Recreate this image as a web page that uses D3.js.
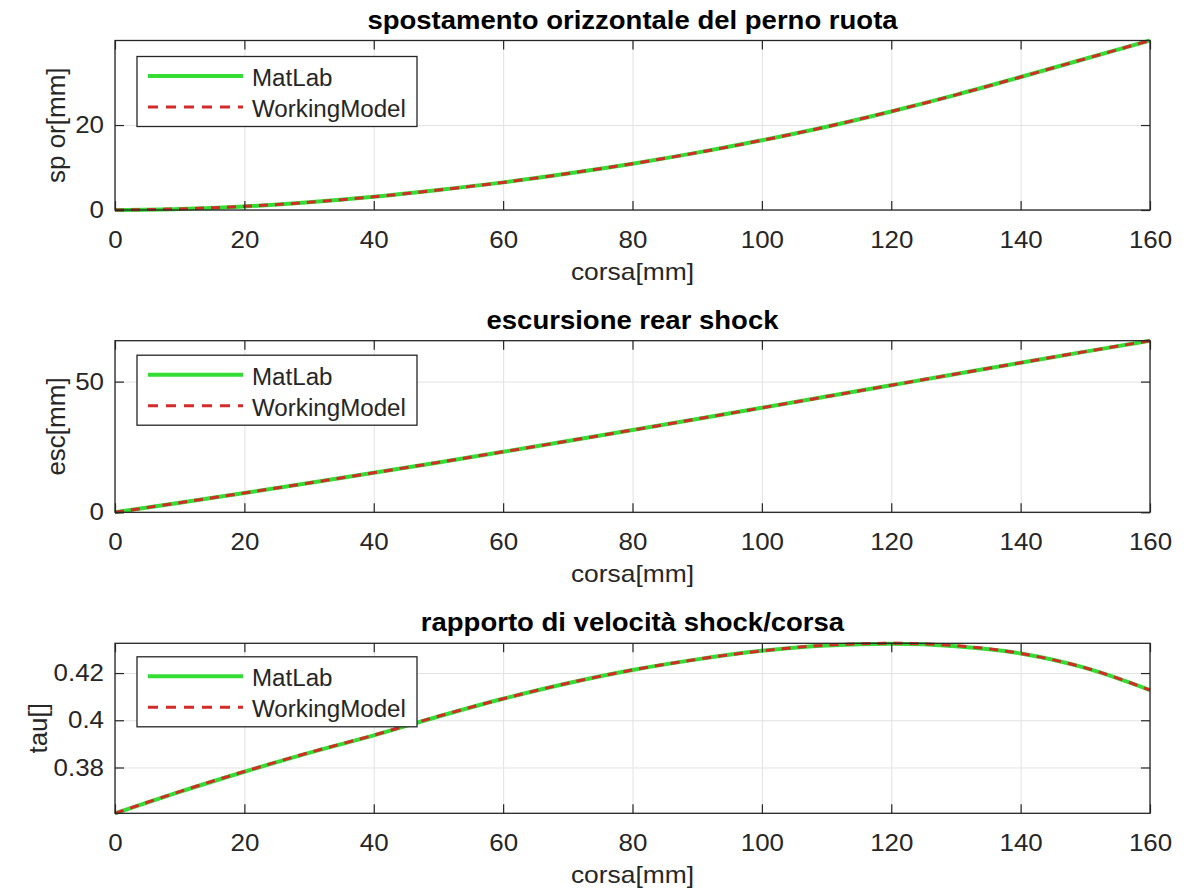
<!DOCTYPE html>
<html>
  <head>
    <title>Sospensione: MatLab vs WorkingModel</title>
    <script src="https://d3js.org/d3.v7.min.js"></script>
    <style type="text/css">
      body {
          margin: 0;
          background: #ffffff;
      }

      text {
          font-family: "Liberation Sans", Arial, Helvetica, sans-serif;
      }

      .grid line {
          stroke: #e2e2e2;
          stroke-width: 1;
      }

      .tick-in line {
          stroke: #262626;
          stroke-width: 1.2;
      }

      .ticklabel text {
          fill: #262626;
          font-size: 24px;
      }
    </style>
  </head>
  <body>
    <script>
        // Corsa ruota [mm] (asse x comune ai tre grafici)
        var corsa = [0, 10, 20, 30, 40, 50, 60, 70, 80, 90, 100, 110, 120, 130, 140, 150, 160];
        var xTicks = [0, 20, 40, 60, 80, 100, 120, 140, 160];

        // spostamento orizzontale del perno ruota [mm]
        var spOrMatLab = [0, 0.25, 0.85, 1.8, 3.1, 4.7, 6.5, 8.6, 10.9, 13.5, 16.4, 19.6, 23.2, 27.1, 31.3, 35.6, 39.9];
        var spOrWorkingModel = [0, 0.26, 0.86, 1.8, 3.1, 4.7, 6.5, 8.6, 10.9, 13.5, 16.4, 19.6, 23.2, 27.1, 31.3, 35.6, 39.9];
        var spOrTicks = [0, 20];

        // escursione rear shock [mm]
        var escMatLab = [0, 3.65, 7.39, 11.21, 15.11, 19.09, 23.14, 27.26, 31.45, 35.69, 39.97, 44.28, 48.60, 52.92, 57.22, 61.47, 65.65];
        var escWorkingModel = [0, 3.66, 7.40, 11.22, 15.12, 19.10, 23.15, 27.27, 31.46, 35.70, 39.98, 44.29, 48.61, 52.93, 57.22, 61.47, 65.65];
        var escTicks = [0, 50];

        // rapporto di velocita' shock/corsa
        var tauMatLab = [0.3606, 0.3697, 0.3782, 0.3862, 0.3936, 0.4016, 0.4091, 0.4157, 0.4213, 0.4258, 0.4294, 0.4317, 0.4324, 0.4314, 0.4283, 0.4222, 0.4128];
        var tauWorkingModel = [0.3606, 0.3698, 0.3783, 0.3863, 0.3937, 0.4017, 0.4091, 0.4157, 0.4213, 0.4258, 0.4294, 0.4318, 0.4326, 0.4316, 0.4283, 0.4222, 0.4128];
        var tauTicks = [0.38, 0.40, 0.42];

        var seriesNames = ["MatLab", "WorkingModel"];

        // Define variables for SVG and create SVG
        var svgWidth = 1196;
        var svgHeight = 892;
        var plotLeft = 115;
        var plotRight = 1150;

        var svg = d3.select("body")
                    .append("svg")
                    .attr("width", svgWidth)
                    .attr("height", svgHeight);

        var xScale = d3.scaleLinear()
                       .domain([0, 160])
                       .range([plotLeft, plotRight]);

        var panels = [
            {title: "spostamento orizzontale del perno ruota", ylabel: "sp or[mm]",
             a: spOrMatLab, b: spOrWorkingModel, ticks: spOrTicks, domain: [0, 39.9],
             top: 40.5, bottom: 210, legendTop: 16, ylabelX: 65},
            {title: "escursione rear shock", ylabel: "esc[mm]",
             a: escMatLab, b: escWorkingModel, ticks: escTicks, domain: [0, 65.65],
             top: 340.7, bottom: 512.3, legendTop: 14.5, ylabelX: 65},
            {title: "rapporto di velocità shock/corsa", ylabel: "tau[]",
             a: tauMatLab, b: tauWorkingModel, ticks: tauTicks, domain: [0.3606, 0.4326],
             top: 643.3, bottom: 813.3, legendTop: 13.5, ylabelX: 47}
        ];

        panels.forEach(function(p) {
            drawPanel(p);
        });

        // make text a bit wider, the original figure is stretched horizontally
        function stretch(selection, factor) {
            selection.each(function() {
                var w = this.getComputedTextLength();
                d3.select(this)
                  .attr("textLength", w * factor)
                  .attr("lengthAdjust", "spacingAndGlyphs");
            });
        }

        function drawPanel(p) {
            var g = svg.append("g");
            var yScale = d3.scaleLinear()
                           .domain(p.domain)
                           .range([p.bottom, p.top]);
            var h = p.bottom - p.top;
            var w = plotRight - plotLeft;

            // grid
            g.append("g")
             .attr("class", "grid")
             .attr("transform", "translate(0," + p.bottom + ")")
             .call(d3.axisBottom(xScale).tickValues(xTicks).tickSize(-h).tickFormat(""))
             .call(function(s) { s.select(".domain").remove(); });

            g.append("g")
             .attr("class", "grid")
             .attr("transform", "translate(" + plotLeft + ",0)")
             .call(d3.axisLeft(yScale).tickValues(p.ticks).tickSize(-w).tickFormat(""))
             .call(function(s) { s.select(".domain").remove(); });

            // lines
            var line = d3.line()
                         .x(function(d, i) { return xScale(corsa[i]); })
                         .y(function(d) { return yScale(d); })
                         .curve(d3.curveMonotoneX);

            g.append("path")
             .datum(p.a)
             .attr("fill", "none")
             .attr("stroke", "#33dd33")
             .attr("stroke-width", 4)
             .attr("d", line);

            g.append("path")
             .datum(p.b)
             .attr("fill", "none")
             .attr("stroke", "#d42a2a")
             .attr("stroke-width", 3)
             .attr("stroke-dasharray", "9,7")
             .attr("d", line);

            // inner ticks on all four sides
            var bottomAxis = g.append("g")
             .attr("class", "tick-in ticklabel")
             .attr("transform", "translate(0," + p.bottom + ")")
             .call(d3.axisBottom(xScale).tickValues(xTicks).tickSizeInner(-9).tickSizeOuter(0).tickPadding(21));
            bottomAxis.select(".domain").remove();
            stretch(bottomAxis.selectAll("text"), 1.08);

            g.append("g")
             .attr("class", "tick-in")
             .attr("transform", "translate(0," + p.top + ")")
             .call(d3.axisTop(xScale).tickValues(xTicks).tickSizeInner(-9).tickSizeOuter(0).tickFormat(""))
             .select(".domain").remove();

            var leftAxis = g.append("g")
             .attr("class", "tick-in ticklabel")
             .attr("transform", "translate(" + plotLeft + ",0)")
             .call(d3.axisLeft(yScale).tickValues(p.ticks).tickSizeInner(-9).tickSizeOuter(0).tickPadding(11)
                     .tickFormat(function(d) { return d3.format("~g")(d); }));
            leftAxis.select(".domain").remove();
            stretch(leftAxis.selectAll("text"), 1.08);

            g.append("g")
             .attr("class", "tick-in")
             .attr("transform", "translate(" + plotRight + ",0)")
             .call(d3.axisRight(yScale).tickValues(p.ticks).tickSizeInner(-9).tickSizeOuter(0).tickFormat(""))
             .select(".domain").remove();

            // box
            g.append("rect")
             .attr("x", plotLeft)
             .attr("y", p.top)
             .attr("width", w)
             .attr("height", h)
             .attr("fill", "none")
             .attr("stroke", "#262626")
             .attr("stroke-width", 1.3);

            // title
            g.append("text")
             .attr("x", (plotLeft + plotRight) / 2)
             .attr("y", p.top - 12)
             .attr("text-anchor", "middle")
             .attr("font-size", "25px")
             .attr("font-weight", "bold")
             .attr("fill", "#000")
             .text(p.title)
             .call(stretch, 1.1);

            // x label
            g.append("text")
             .attr("x", (plotLeft + plotRight) / 2)
             .attr("y", p.bottom + 70)
             .attr("text-anchor", "middle")
             .attr("font-size", "24px")
             .attr("fill", "#262626")
             .text("corsa[mm]")
             .call(stretch, 1.1);

            // y label
            g.append("text")
             .attr("transform", "translate(" + p.ylabelX + "," + (p.top + p.bottom) / 2 + ") rotate(-90)")
             .attr("text-anchor", "middle")
             .attr("font-size", "26px")
             .attr("fill", "#262626")
             .text(p.ylabel);

            // legend
            var lx = plotLeft + 22;
            var ly = p.top + p.legendTop;
            var legend = g.append("g");

            legend.append("rect")
                  .attr("x", lx)
                  .attr("y", ly)
                  .attr("width", 280)
                  .attr("height", 70)
                  .attr("fill", "#fff")
                  .attr("stroke", "#262626")
                  .attr("stroke-width", 1.3);

            var legendStyles = [
                {stroke: "#33dd33", width: 4, dash: null},
                {stroke: "#d42a2a", width: 3, dash: "10,8"}
            ];

            seriesNames.forEach(function(name, i) {
                var rowY = ly + 19.5 + i * 31;
                legend.append("line")
                      .attr("x1", lx + 11)
                      .attr("x2", lx + 106)
                      .attr("y1", rowY)
                      .attr("y2", rowY)
                      .attr("stroke", legendStyles[i].stroke)
                      .attr("stroke-width", legendStyles[i].width)
                      .attr("stroke-dasharray", legendStyles[i].dash);
                legend.append("text")
                      .attr("x", lx + 115)
                      .attr("y", rowY + 10)
                      .attr("font-size", "23px")
                      .attr("fill", "#262626")
                      .text(name)
                      .call(stretch, 1.05);
            });
        }
    </script>
  </body>
</html>
